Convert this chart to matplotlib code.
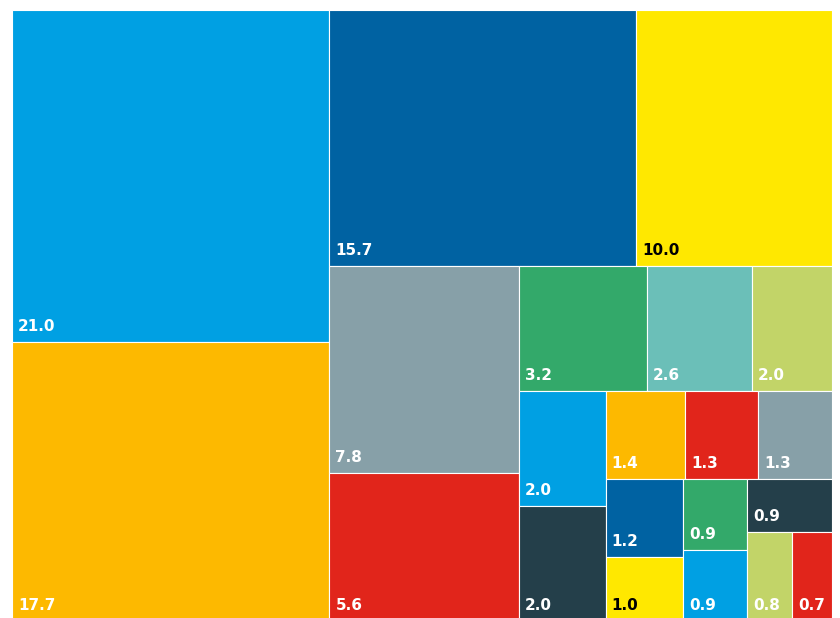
"""Treemap of shares (percent), nested slice-and-dice layout."""

import matplotlib.pyplot as plt
from matplotlib.patches import Rectangle

# cell values (percent)
values = [21.0, 17.7, 15.7, 10.0, 7.8, 5.6, 3.2, 2.6, 2.0, 2.0, 2.0,
          1.4, 1.3, 1.3, 1.2, 1.0, 0.9, 0.9, 0.9, 0.8, 0.7]
labels = [f"{v:.1f}" for v in values]

LBLUE, AMBER, DBLUE, YELLOW = "#00a0e3", "#fdb900", "#0062a2", "#ffe800"
GREY, RED, GREEN, TEAL = "#87a0a8", "#e1251b", "#33a96a", "#6bbfb8"
LIME, SLATE = "#c2d468", "#243f4a"

colors = [LBLUE, AMBER, DBLUE, YELLOW, GREY, RED, GREEN, TEAL, LIME, LBLUE, SLATE,
          AMBER, RED, GREY, DBLUE, YELLOW, GREEN, LBLUE, SLATE, LIME, RED]
text_colors = ["black" if c == YELLOW else "white" for c in colors]

# grouping of cells: ("h", ...) splits horizontally (left to right),
# ("v", ...) stacks vertically (top to bottom); ints index into values
tree = ("h", [
    ("v", [0, 1]),
    ("v", [
        ("h", [2, 3]),
        ("h", [
            ("v", [4, 5]),
            ("v", [
                ("h", [6, 7, 8]),
                ("h", [
                    ("v", [9, 10]),
                    ("v", [
                        ("h", [11, 12, 13]),
                        ("h", [
                            ("v", [14, 15]),
                            ("h", [
                                ("v", [16, 17]),
                                ("v", [18, ("h", [19, 20])]),
                            ]),
                        ]),
                    ]),
                ]),
            ]),
        ]),
    ]),
])


def total(node):
    if isinstance(node, int):
        return values[node]
    return sum(total(c) for c in node[1])


def layout(node, x, y, w, h, out):
    """Fill ``out`` with (index, x, y, w, h); y is the bottom edge."""
    if isinstance(node, int):
        out.append((node, x, y, w, h))
        return
    direction, children = node
    s = total(node)
    if direction == "h":
        for c in children:
            cw = w * total(c) / s
            layout(c, x, y, cw, h, out)
            x += cw
    else:
        top = y + h
        for c in children:
            ch = h * total(c) / s
            top -= ch
            layout(c, x, top, w, ch, out)


rects = []
layout(tree, 0.0, 0.0, 1.0, 1.0, rects)

fig = plt.figure(figsize=(8.4, 6.18), dpi=100)
ax = fig.add_axes([12 / 840, -3 / 618, 820 / 840, 611 / 618])
ax.set_xlim(0, 1)
ax.set_ylim(0, 1)
ax.axis("off")

for i, x, y, w, h in rects:
    ax.add_patch(Rectangle((x, y), w, h, facecolor=colors[i],
                           edgecolor="white", linewidth=0.8))
    ax.annotate(labels[i], (x, y), xytext=(6, 8), textcoords="offset pixels",
                ha="left", va="bottom", fontsize=11, fontweight="bold",
                color=text_colors[i])

fig.savefig("out.png", dpi=100)
